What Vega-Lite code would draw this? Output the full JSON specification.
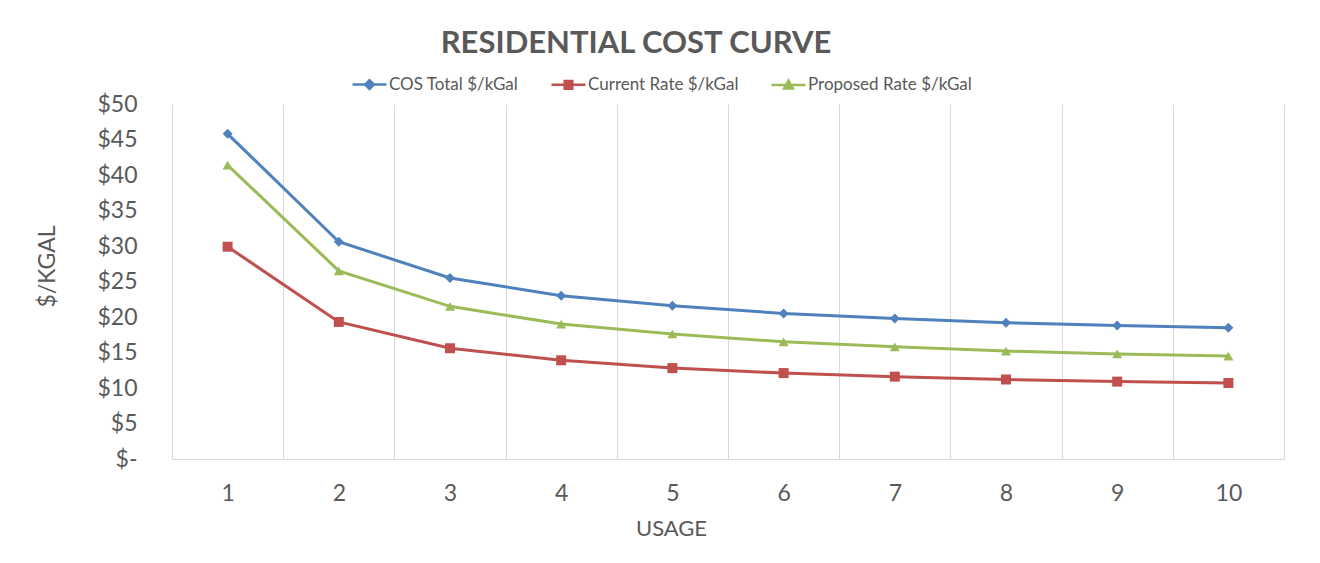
{
  "$schema": "https://vega.github.io/schema/vega-lite/v6.json",
  "width": 1112,
  "height": 355,
  "autosize": {"type": "none"},
  "padding": {"left": 172, "top": 104, "right": 36, "bottom": 104},
  "background": "white",
  "config": {
    "font": "Lato",
    "view": {"stroke": null},
    "axis": {"labelColor": "#595959", "titleColor": "#595959", "labelFont": "Lato", "titleFont": "Lato", "titleFontWeight": "normal"}
  },
  "title": {
    "text": "RESIDENTIAL COST CURVE",
    "fontSize": 31,
    "fontWeight": "bold",
    "color": "#595959",
    "font": "Lato",
    "anchor": "middle",
    "dx": -92,
    "offset": 16
  },
  "data": {
    "values": [
      {"usage": 1, "series": "COS Total $/kGal", "value": 45.8},
      {"usage": 2, "series": "COS Total $/kGal", "value": 30.6},
      {"usage": 3, "series": "COS Total $/kGal", "value": 25.5},
      {"usage": 4, "series": "COS Total $/kGal", "value": 23.0},
      {"usage": 5, "series": "COS Total $/kGal", "value": 21.6},
      {"usage": 6, "series": "COS Total $/kGal", "value": 20.5},
      {"usage": 7, "series": "COS Total $/kGal", "value": 19.8},
      {"usage": 8, "series": "COS Total $/kGal", "value": 19.2},
      {"usage": 9, "series": "COS Total $/kGal", "value": 18.8},
      {"usage": 10, "series": "COS Total $/kGal", "value": 18.5},
      {"usage": 1, "series": "Current Rate $/kGal", "value": 29.9},
      {"usage": 2, "series": "Current Rate $/kGal", "value": 19.3},
      {"usage": 3, "series": "Current Rate $/kGal", "value": 15.6},
      {"usage": 4, "series": "Current Rate $/kGal", "value": 13.9},
      {"usage": 5, "series": "Current Rate $/kGal", "value": 12.8},
      {"usage": 6, "series": "Current Rate $/kGal", "value": 12.1},
      {"usage": 7, "series": "Current Rate $/kGal", "value": 11.6},
      {"usage": 8, "series": "Current Rate $/kGal", "value": 11.2},
      {"usage": 9, "series": "Current Rate $/kGal", "value": 10.9},
      {"usage": 10, "series": "Current Rate $/kGal", "value": 10.7},
      {"usage": 1, "series": "Proposed Rate $/kGal", "value": 41.4},
      {"usage": 2, "series": "Proposed Rate $/kGal", "value": 26.5},
      {"usage": 3, "series": "Proposed Rate $/kGal", "value": 21.5},
      {"usage": 4, "series": "Proposed Rate $/kGal", "value": 19.0},
      {"usage": 5, "series": "Proposed Rate $/kGal", "value": 17.6},
      {"usage": 6, "series": "Proposed Rate $/kGal", "value": 16.5},
      {"usage": 7, "series": "Proposed Rate $/kGal", "value": 15.8},
      {"usage": 8, "series": "Proposed Rate $/kGal", "value": 15.2},
      {"usage": 9, "series": "Proposed Rate $/kGal", "value": 14.8},
      {"usage": 10, "series": "Proposed Rate $/kGal", "value": 14.5}
    ]
  },
  "encoding": {
    "x": {
      "field": "usage",
      "type": "ordinal",
      "scale": {"paddingInner": 0, "paddingOuter": 0},
      "axis": {
        "title": "USAGE",
        "labelAngle": 0,
        "labelFontSize": 23,
        "labelPadding": 23,
        "ticks": false,
        "tickBand": "extent",
        "grid": true,
        "gridColor": "#d9d9d9",
        "gridWidth": 1,
        "domainColor": "#d9d9d9",
        "domainWidth": 1,
        "titleFontSize": 22,
        "titleX": 499,
        "titleY": 69,
        "titleBaseline": "middle"
      }
    },
    "y": {
      "field": "value",
      "type": "quantitative",
      "scale": {"domain": [0, 50], "nice": false},
      "axis": {
        "title": "$/KGAL",
        "values": [0, 5, 10, 15, 20, 25, 30, 35, 40, 45, 50],
        "labelExpr": "datum.value == 0 ? '$-' : '$' + datum.value",
        "labelFontSize": 23,
        "labelPadding": 35,
        "ticks": false,
        "domain": false,
        "grid": false,
        "titleFontSize": 23,
        "titleX": -125,
        "titleY": 162,
        "titleBaseline": "middle"
      }
    },
    "color": {
      "field": "series",
      "type": "nominal",
      "scale": {
        "domain": ["COS Total $/kGal", "Current Rate $/kGal", "Proposed Rate $/kGal"],
        "range": ["#4F81BD", "#C0504D", "#9BBB59"]
      },
      "legend": {
        "title": null,
        "orient": "none",
        "direction": "horizontal",
        "legendX": 189,
        "legendY": -28,
        "labelFontSize": 17,
        "labelColor": "#595959",
        "labelFont": "Lato",
        "labelLimit": 400,
        "labelOffset": 11,
        "columnPadding": 27,
        "symbolSize": 64,
        "symbolStrokeWidth": 2.5,
        "encode": {
          "symbols": {
            "update": {
              "shape": {"signal": "datum.value === 'COS Total $/kGal' ? 'M-4.25,0L4.25,0M-1.1,0L0,-1.1L1.1,0L0,1.1Z' : datum.value === 'Current Rate $/kGal' ? 'M-4.25,0L4.25,0M-0.95,-0.95L0.95,-0.95L0.95,0.95L-0.95,0.95Z' : 'M-4.25,0L4.25,0M0,-1.1L1.1,0.9L-1.1,0.9Z'"},
              "fill": {"signal": "scale('color', datum.value)"},
              "stroke": {"signal": "scale('color', datum.value)"},
              "strokeWidth": {"value": 2.5},
              "opacity": {"value": 1},
              "fillOpacity": {"value": 1}
            }
          }
        }
      }
    }
  },
  "layer": [
    {
      "mark": {"type": "line", "strokeWidth": 3}
    },
    {
      "transform": [{"filter": "datum.series === 'COS Total $/kGal'"}],
      "mark": {"type": "point", "filled": true, "opacity": 1, "size": 100, "shape": "diamond"}
    },
    {
      "transform": [{"filter": "datum.series === 'Current Rate $/kGal'"}],
      "mark": {"type": "point", "filled": true, "opacity": 1, "size": 100, "shape": "square"}
    },
    {
      "transform": [{"filter": "datum.series === 'Proposed Rate $/kGal'"}],
      "mark": {"type": "point", "filled": true, "opacity": 1, "size": 100, "shape": "triangle-up"}
    }
  ]
}
